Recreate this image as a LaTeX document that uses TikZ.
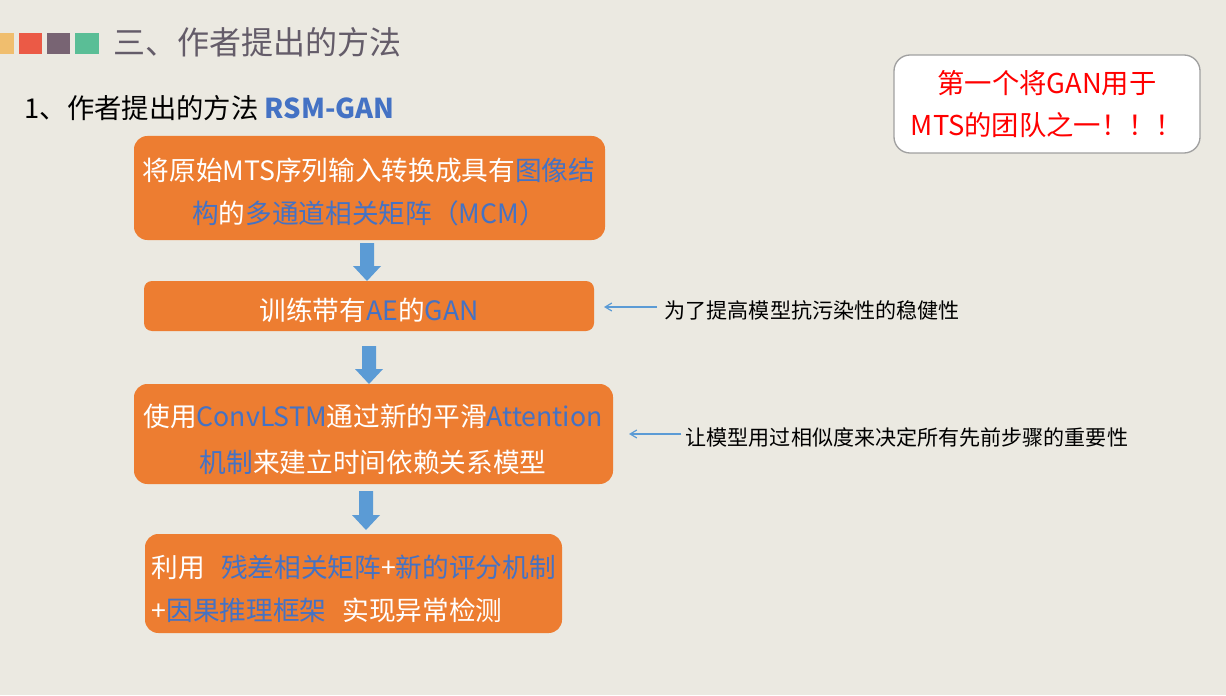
\documentclass[tikz,border=0pt]{standalone}
\usepackage{fontspec}
\setmainfont{Noto Sans CJK SC}
\definecolor{bg}{RGB}{235,233,225}
\definecolor{org}{RGB}{237,125,49}
\definecolor{blu}{RGB}{68,114,196}
\definecolor{arr}{RGB}{91,155,213}
\definecolor{ttl}{RGB}{100,92,105}
\tikzset{
 btxt/.style={text=white,font=\fontsize{20}{21}\selectfont,anchor=center},
 side/.style={font=\fontsize{15.8}{17}\selectfont,anchor=west},
 thin/.style={draw=arr,line width=0.9pt,-{Straight Barb[length=5pt,width=6pt]}}
}
\usetikzlibrary{arrows.meta}
\newcommand{\bl}[1]{\textcolor{blu}{#1}}
\newcommand{\barrow}[3]{\fill[arr] (#1-7,#2) -- (#1+7,#2) -- (#1+7,#3-15) -- (#1+14,#3-15) -- (#1,#3) -- (#1-14,#3-15) -- (#1-7,#3-15) -- cycle;}
\begin{document}
\begin{tikzpicture}[x=0.75pt,y=-0.75pt]
\fill[bg] (0,0) rectangle (1226,695);
\useasboundingbox (0,0) rectangle (1226,695);
\fill[fill={rgb,255:red,240;green,190;blue,110}] (0,33) rectangle (14,54);
\fill[fill={rgb,255:red,235;green,90;blue,70}] (19,33) rectangle (42,54);
\fill[fill={rgb,255:red,120;green,100;blue,115}] (47,33) rectangle (70,54);
\fill[fill={rgb,255:red,90;green,190;blue,150}] (75,33) rectangle (99,54);
\node[anchor=west,text=ttl,font=\fontsize{24}{26}\selectfont] (title) at (109,42) {三、作者提出的方法};
\node[anchor=west,font=\fontsize{20.5}{22}\selectfont] (sub) at (20,108) {1、作者提出的方法 \textcolor{blu}{\bfseries RSM-GAN}};
\node[draw={rgb,255:red,160;green,160;blue,160},line width=1pt,fill=white,rounded corners=12pt,minimum width=306*0.75pt,minimum height=98*0.75pt,align=center,text=red,font=\fontsize{20.5}{32}\selectfont] (note) at (1047,104) {第一个将GAN用于\\MTS的团队之一！！！};
\fill[org,rounded corners=10pt] (134,136) rectangle (605,240);
\node[btxt] (b1a) at (369,170) {将原始MTS序列输入转换成具有\bl{图像结}};
\node[btxt] (b1b) at (369,213) {\bl{构}的\bl{多通道相关矩阵（MCM）}};
\fill[org,rounded corners=6pt] (144,281) rectangle (594,331);
\node[btxt] (b2) at (369,310) {训练带有\bl{AE}的\bl{GAN}};
\fill[org,rounded corners=10pt] (134,384) rectangle (613,484);
\node[btxt] (b3a) at (373,416) {使用\bl{ConvLSTM}通过新的平滑\bl{Attention}};
\node[btxt] (b3b) at (373,462) {\bl{机制}来建立时间依赖关系模型};
\fill[org,rounded corners=10pt] (145,534) rectangle (562,633);
\node[btxt,anchor=west] (b4a) at (147,567) {利用\hspace{0.6em}\bl{残差相关矩阵}+\bl{新的评分机制}};
\node[btxt,anchor=west] (b4b) at (147,610) {+\bl{因果推理框架}\hspace{0.6em}实现异常检测};
\barrow{367}{243}{281}
\barrow{369}{346}{384}
\barrow{366}{491}{530}
\coordinate (s1) at (657,307); \coordinate (e1) at (604,307);
\draw[thin] (s1) -- (e1);
\node[side] (t1) at (660,310) {为了提高模型抗污染性的稳健性};
\coordinate (s2) at (681,434); \coordinate (e2) at (629,434);
\draw[thin] (s2) -- (e2);
\node[side] (t2) at (681,437) {让模型用过相似度来决定所有先前步骤的重要性};
\end{tikzpicture}
\end{document}
